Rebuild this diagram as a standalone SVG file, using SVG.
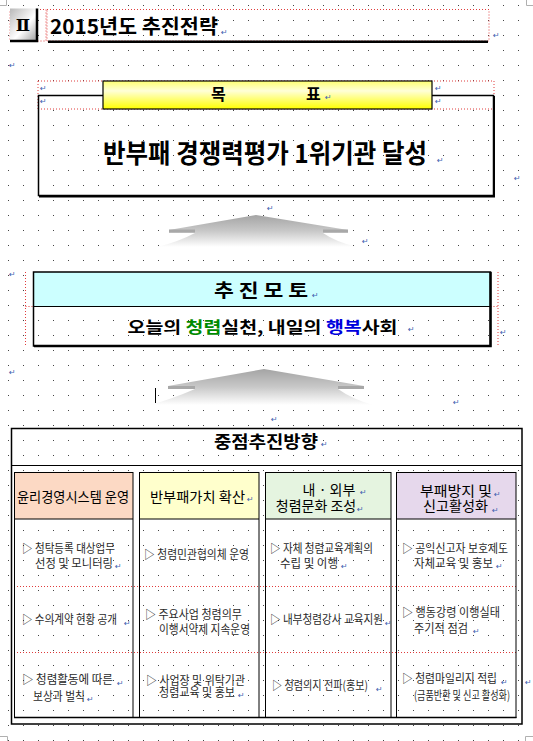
<svg xmlns="http://www.w3.org/2000/svg" width="533" height="741" viewBox="0 0 533 741">
<defs>
<pattern id="dots" width="15" height="15" patternUnits="userSpaceOnUse" x="8" y="5"><rect width="1" height="1" fill="#444"/></pattern>
<linearGradient id="gBox" x1="0" y1="0" x2="1" y2="1"><stop offset="0" stop-color="#b8b8b8"/><stop offset="0.55" stop-color="#ffffff"/><stop offset="1" stop-color="#9a9a9a"/></linearGradient>
<linearGradient id="gYel" x1="0" y1="0" x2="0" y2="1"><stop offset="0" stop-color="#ffff70"/><stop offset="0.35" stop-color="#ffffd8"/><stop offset="1" stop-color="#ffff00"/></linearGradient>
<linearGradient id="gArr" x1="0" y1="0" x2="0" y2="1"><stop offset="0" stop-color="#a4a4a4"/><stop offset="0.5" stop-color="#c8c8c8"/><stop offset="1" stop-color="#ffffff"/></linearGradient>
<style>
.k{font-family:'Noto Sans CJK KR','Noto Sans CJK SC',sans-serif}
.b{font-weight:bold;fill:#000}
.hd{font-size:14px;fill:#000}
.bd{font-size:12px;fill:#2a2a2a}
.pm{font-family:'DejaVu Sans',sans-serif;font-size:8px;fill:#4060b0}
.red{fill:none;stroke:#e03c3c;stroke-width:1;stroke-dasharray:1 2}
.ln{fill:none;stroke:#000;stroke-width:1}
.arrbar{fill:#a8a8a8}
</style>
</defs>
<rect width="533" height="741" fill="#fff"/>
<rect width="533" height="741" fill="url(#dots)"/>
<g id="pagecorners" fill="none" stroke="#b0b0b0" stroke-width="1">
<path d="M0,5.5 H6.5 V0"/><path d="M533,5.5 H526.5 V0"/><path d="M0,736.5 H7.5 V741"/><path d="M533,736.5 H525.5 V741"/>
</g>

<g id="section-header">
<rect class="red" x="10" y="9.5" width="36" height="31.5"/>
<rect class="red" x="47" y="9.5" width="442" height="31.5"/>
<rect x="10" y="8.5" width="28" height="32.5" fill="url(#gBox)"/>
<path d="M37,8.5 V41 H10" fill="none" stroke="#000" stroke-width="2.5"/>
<text x="23" y="31" text-anchor="middle" font-family="'DejaVu Serif','Noto Sans CJK KR',serif" font-weight="bold" font-size="17">Ⅱ</text>
<text class="k b" x="50" y="34" font-size="20" textLength="168" lengthAdjust="spacingAndGlyphs">2015년도 추진전략</text>
<line x1="48" y1="41.8" x2="488" y2="41.8" stroke="#000" stroke-width="2.6"/>
</g>

<g id="goal">
<path class="red" d="M38,81 H494 M38,109 H494 M38,81 V109 M494,81 V109"/>
<rect x="38.5" y="95.5" width="455" height="100" fill="none" stroke="#000" stroke-width="1.5"/>
<path d="M494,96 V196.5 H39" fill="none" stroke="#000" stroke-width="2"/>
<rect x="103" y="81" width="329" height="28" fill="url(#gYel)" stroke="#000" stroke-width="1.2"/>
<text class="k b" x="211" y="100" font-size="16">목</text>
<text class="k b" x="306" y="100" font-size="16">표</text>
<text class="k b" x="103" y="163" font-size="26" textLength="324" lengthAdjust="spacingAndGlyphs">반부패 경쟁력평가 1위기관 달성</text>
</g>

<g id="connectors">
<path d="M256,215 L348,230 L348,233 L323,233 Q336,242 357,247 L157,247 Q178,242 195,233 L169,233 L169,230 Z" fill="url(#gArr)"/>
<rect class="arrbar" x="169" y="229.5" width="26" height="3"/>
<rect class="arrbar" x="323" y="229.5" width="25" height="3"/>
<path d="M264,369 L364,386 L364,389 L338,389 Q352,399 373,405 L150,405 Q172,399 195,389 L168,389 L168,386 Z" fill="url(#gArr)"/>
<rect class="arrbar" x="168" y="386" width="27" height="3"/>
<rect class="arrbar" x="338" y="386" width="26" height="3"/>
</g>
<line id="cursor" x1="155.5" y1="388" x2="155.5" y2="403" stroke="#000" stroke-width="1"/>

<g id="motto">
<path class="red" d="M25.5,272 V346 M498,272 V346 M25.5,306.5 H498"/>
<rect x="33.5" y="272" width="457" height="34.5" fill="#ccffff"/>
<rect x="33.5" y="272" width="457" height="74" fill="none" stroke="#000" stroke-width="1.5"/>
<path d="M490.5,272 V346 H34" fill="none" stroke="#000" stroke-width="2.5"/>
<line x1="33.5" y1="306.5" x2="490.5" y2="306.5" stroke="#000" stroke-width="1"/>
<text class="k b" x="214" y="297" font-size="18" textLength="94" lengthAdjust="spacingAndGlyphs">추 진 모 토</text>
<text class="k b" x="127.5" y="333" font-size="16" textLength="270" lengthAdjust="spacingAndGlyphs">오늘의 <tspan fill="#008a00">청렴</tspan>실천, 내일의 <tspan fill="#0000dd">행복</tspan>사회</text>
</g>

<g id="strategy">
<rect x="11.5" y="428.5" width="510.5" height="295.5" fill="none" stroke="#000" stroke-width="1.5"/>
<line x1="11.5" y1="465.5" x2="522" y2="465.5" stroke="#000" stroke-width="1.2"/>
<text class="k b" x="214" y="448" font-size="17" textLength="104" lengthAdjust="spacingAndGlyphs">중점추진방향</text>
<line x1="14" y1="717.5" x2="516.5" y2="717.5" stroke="#000" stroke-width="1.5"/>
<path class="red" d="M14,586.5 H516 M14,652.5 H516"/>
</g>

<g id="col1">
<rect x="14.5" y="472.5" width="118.5" height="46.5" fill="#fcd9c4"/>
<rect class="ln" x="14.5" y="472.5" width="118.5" height="245"/>
<line class="ln" x1="14.5" y1="519" x2="133" y2="519"/>
<text class="k hd" x="17" y="502" textLength="112" lengthAdjust="spacingAndGlyphs">윤리경영시스템 운영</text>
<text class="k bd" x="22" y="553" textLength="93" lengthAdjust="spacingAndGlyphs">▷ 청탁등록 대상업무</text>
<text class="k bd" x="35" y="568" textLength="78" lengthAdjust="spacingAndGlyphs">선정 및 모니터링</text>
<text class="k bd" x="22" y="624" textLength="95" lengthAdjust="spacingAndGlyphs">▷ 수의계약 현황 공개</text>
<text class="k bd" x="22" y="684" textLength="91" lengthAdjust="spacingAndGlyphs">▷ 청렴활동에 따른</text>
<text class="k bd" x="33" y="701" textLength="52" lengthAdjust="spacingAndGlyphs">보상과 벌칙</text>
</g>

<g id="col2">
<rect x="139.5" y="472.5" width="119.5" height="46.5" fill="#ffffcc"/>
<rect class="ln" x="139.5" y="472.5" width="119.5" height="245"/>
<line class="ln" x1="139.5" y1="519" x2="259" y2="519"/>
<text class="k hd" x="150" y="502" textLength="95" lengthAdjust="spacingAndGlyphs">반부패가치 확산</text>
<text class="k bd" x="144" y="559" textLength="105" lengthAdjust="spacingAndGlyphs">▷ 청렴민관협의체 운영</text>
<text class="k bd" x="145" y="619" textLength="97" lengthAdjust="spacingAndGlyphs">▷ 주요사업 청렴의무</text>
<text class="k bd" x="159" y="634" textLength="91" lengthAdjust="spacingAndGlyphs">이행서약제 지속운영</text>
<text class="k bd" x="146" y="685" textLength="99" lengthAdjust="spacingAndGlyphs">▷ 사업장 및 위탁기관</text>
<text class="k bd" x="159" y="697" textLength="76" lengthAdjust="spacingAndGlyphs">청렴교육 및 홍보</text>
</g>

<g id="col3">
<rect x="265.5" y="472.5" width="125.5" height="46.5" fill="#e5f4e0"/>
<rect class="ln" x="265.5" y="472.5" width="125.5" height="245"/>
<line class="ln" x1="265.5" y1="519" x2="391" y2="519"/>
<text class="k hd" x="329" y="495" text-anchor="middle">내 · 외부</text>
<text class="k hd" x="316" y="511" text-anchor="middle">청렴문화 조성</text>
<text class="k bd" x="270" y="553" textLength="103" lengthAdjust="spacingAndGlyphs">▷ 자체 청렴교육계획의</text>
<text class="k bd" x="280" y="568" textLength="58" lengthAdjust="spacingAndGlyphs">수립 및 이행</text>
<text class="k bd" x="270" y="624" textLength="113" lengthAdjust="spacingAndGlyphs">▷ 내부청렴강사 교육지원</text>
<text class="k bd" x="272" y="690" textLength="96" lengthAdjust="spacingAndGlyphs">▷ 청렴의지 전파(홍보)</text>
</g>

<g id="col4">
<rect x="396.5" y="472.5" width="119.5" height="46.5" fill="#e6d8ec"/>
<rect class="ln" x="396.5" y="472.5" width="119.5" height="245"/>
<line class="ln" x1="396.5" y1="519" x2="516" y2="519"/>
<text class="k hd" x="420" y="496" textLength="72" lengthAdjust="spacingAndGlyphs">부패방지 및</text>
<text class="k hd" x="423" y="511" textLength="65" lengthAdjust="spacingAndGlyphs">신고활성화</text>
<text class="k bd" x="402" y="553" textLength="106" lengthAdjust="spacingAndGlyphs">▷ 공익신고자 보호제도</text>
<text class="k bd" x="414" y="568" textLength="79" lengthAdjust="spacingAndGlyphs">자체교육 및 홍보</text>
<text class="k bd" x="402" y="617" textLength="98" lengthAdjust="spacingAndGlyphs">▷ 행동강령 이행실태</text>
<text class="k bd" x="414" y="633" textLength="54" lengthAdjust="spacingAndGlyphs">주기적 점검</text>
<text class="k bd" x="402" y="683" textLength="95" lengthAdjust="spacingAndGlyphs">▷ 청렴마일리지 적립</text>
<text class="k bd" x="414" y="700" font-size="11.5" textLength="96" lengthAdjust="spacingAndGlyphs">(금품반환 및 신고 활성화)</text>
</g>

<g id="paragraph-marks">
<text class="pm" x="221" y="35">↵</text>
<text class="pm" x="493" y="38">↵</text>
<text class="pm" x="9" y="68">↵</text>
<text class="pm" x="40" y="91">↵</text>
<text class="pm" x="40" y="104">↵</text>
<text class="pm" x="435" y="91">↵</text>
<text class="pm" x="435" y="104">↵</text>
<text class="pm" x="325" y="100">↵</text>
<text class="pm" x="437" y="163">↵</text>
<text class="pm" x="514" y="181">↵</text>
<text class="pm" x="267" y="211">↵</text>
<text class="pm" x="362" y="244">↵</text>
<text class="pm" x="9" y="277">↵</text>
<text class="pm" x="312" y="298">↵</text>
<text class="pm" x="408" y="332">↵</text>
<text class="pm" x="500" y="335">↵</text>
<text class="pm" x="9" y="375">↵</text>
<text class="pm" x="453" y="405">↵</text>
<text class="pm" x="271" y="422">↵</text>
<text class="pm" x="321" y="447">↵</text>
<text class="pm" x="247" y="502">↵</text>
<text class="pm" x="360" y="495">↵</text>
<text class="pm" x="357" y="512">↵</text>
<text class="pm" x="494" y="497">↵</text>
<text class="pm" x="492" y="513">↵</text>
<text class="pm" x="115" y="569">↵</text>
<text class="pm" x="124" y="626">↵</text>
<text class="pm" x="117" y="686">↵</text>
<text class="pm" x="87" y="702">↵</text>
<text class="pm" x="238" y="698">↵</text>
<text class="pm" x="341" y="569">↵</text>
<text class="pm" x="496" y="569">↵</text>
<text class="pm" x="385" y="626">↵</text>
<text class="pm" x="473" y="634">↵</text>
<text class="pm" x="376" y="692">↵</text>
<text class="pm" x="501" y="685">↵</text>
<text class="pm" x="525" y="685">↵</text>
</g>
</svg>
